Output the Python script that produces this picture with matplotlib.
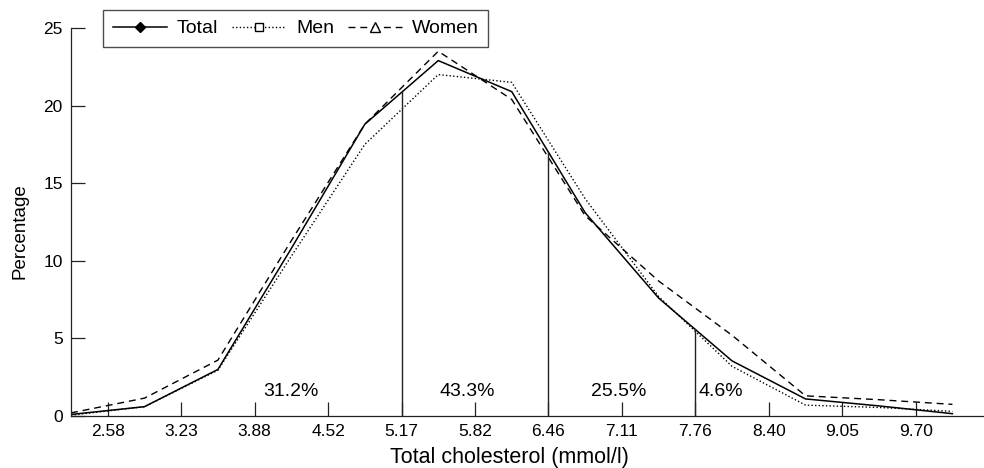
import numpy as np
import matplotlib
matplotlib.use("Agg")
import matplotlib.pyplot as plt
from matplotlib.lines import Line2D

plt.rcParams['font.family'] = ['Liberation Sans', 'DejaVu Sans']

# ---- data ----
tick_labels = ["2.58", "3.23", "3.88", "4.52", "5.17", "5.82", "6.46",
               "7.11", "7.76", "8.40", "9.05", "9.70"]
total = [0.1, 0.6, 3.0, 10.8, 18.8, 22.9, 20.9, 13.1, 7.6, 3.55, 1.1, 0.65, 0.15]
men = [0.05, 0.6, 2.95, 10.3, 17.5, 22.0, 21.5, 14.0, 7.7, 3.2, 0.7, 0.55, 0.3]
women = [0.2, 1.15, 3.6, 11.3, 18.8, 23.5, 20.4, 12.9, 8.7, 5.2, 1.3, 1.05, 0.75]
cutoff_labels = ["5.17", "6.46", "7.76"]
share_labels = ["31.2%", "43.3%", "25.5%", "4.6%"]
share_pos = [3.0, 5.4, 7.45, 8.85]

fig = plt.figure(figsize=(9.84, 4.68), dpi=100)
ax = fig.add_axes([71/984, 52/468, (984-71)/984, (416-28)/468])

x = np.arange(len(total))
ink = "#222222"
ax.plot(x, total, color="black", lw=1.1, ls="-")
ax.plot(x, men, color="black", lw=1.0, ls=(0, (1, 1.6)))
ax.plot(x, women, color="black", lw=1.0, ls=(0, (5, 3.5)))

tick_pos = np.arange(len(tick_labels)) + 0.5
for lab in cutoff_labels:
    xp = tick_pos[tick_labels.index(lab)]
    ax.plot([xp, xp], [0, np.interp(xp, x, total)], color=ink, lw=1.0)

for s, p in zip(share_labels, share_pos):
    ax.text(p, 1.55, s, ha="center", va="center", fontsize=14)

ax.set_xlim(0, 12.43)
ax.set_ylim(0, 25)
ax.set_xticks(tick_pos)
ax.set_xticklabels(tick_labels)
ax.set_yticks([0, 5, 10, 15, 20, 25])
ax.tick_params(axis="both", direction="in", length=10, width=0.9, color=ink,
               labelsize=12.5)
ax.tick_params(axis="x", pad=6)
ax.tick_params(axis="y", pad=6)
for sp in ["top", "right"]:
    ax.spines[sp].set_visible(False)
for sp in ["left", "bottom"]:
    ax.spines[sp].set_color(ink)
    ax.spines[sp].set_linewidth(0.9)

fig.text(509/984, 1 - 457/468, "Total cholesterol (mmol/l)", ha="center",
         va="center", fontsize=15.5)
fig.text(20/984, 1 - 231/468, "Percentage", ha="center", va="center",
         rotation=90, fontsize=13.5)

handles = [
    Line2D([], [], color="black", lw=1.1, ls="-", marker="D", markersize=5.5,
           markerfacecolor="black"),
    Line2D([], [], color="black", lw=1.0, ls=(0, (1, 1.6)), marker="s",
           markersize=6, markerfacecolor="white"),
    Line2D([], [], color="black", lw=1.0, ls=(0, (5, 3.5)), marker="^",
           markersize=6.5, markerfacecolor="white"),
]
leg = fig.legend(handles, ["Total", "Men", "Women"], loc="upper left",
                 bbox_to_anchor=(103/984, 1 - 10/468), ncol=3, fontsize=14,
                 frameon=True, fancybox=False, edgecolor=ink,
                 handlelength=2.8, handletextpad=0.5, columnspacing=0.7,
                 borderpad=0.5, borderaxespad=0)
leg.get_frame().set_linewidth(1.0)

fig.savefig("out.png", dpi=100)
